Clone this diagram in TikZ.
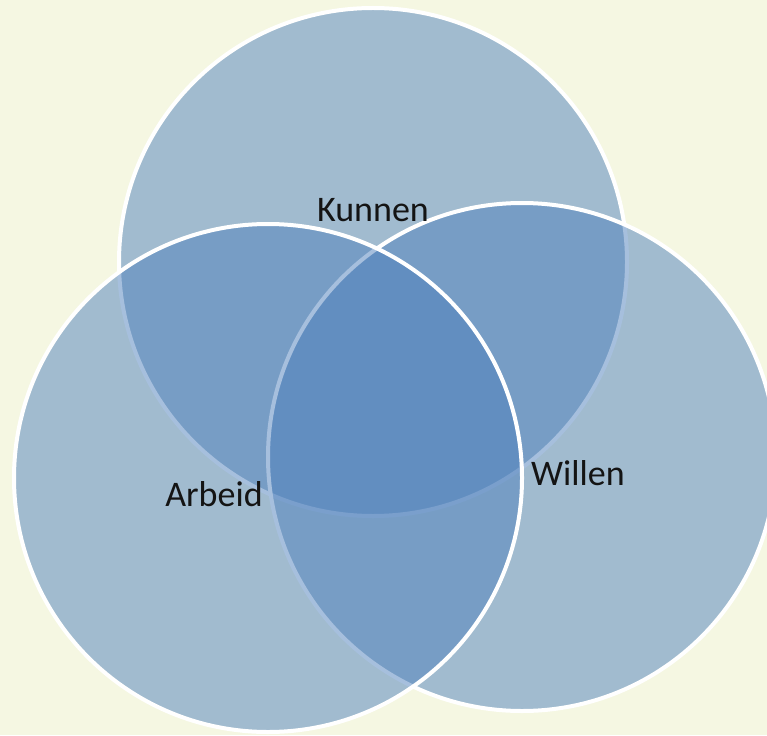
\documentclass[tikz,border=0pt]{standalone}
\usepackage{fontspec}
\setmainfont{Carlito}
\definecolor{bgbeige}{RGB}{245,247,226}
\definecolor{vennblue}{RGB}{79,129,189}
\definecolor{labelcol}{RGB}{20,20,20}
\tikzset{
  venncircle/.style={circle, inner sep=0pt, minimum size=508pt, fill=vennblue,
    fill opacity=0.5, draw=white, draw opacity=1, line width=4pt},
  vennlabel/.style={anchor=base, text=labelcol, inner sep=0pt,
    font=\fontsize{36}{43}\selectfont}
}
\begin{document}
\begin{tikzpicture}[x=1pt,y=-1pt]
\useasboundingbox (0,0) rectangle (767,735);
\clip (0,0) rectangle (767,735);
\fill[bgbeige] (0,0) rectangle (767,735);
\node[venncircle] (kunnenC) at (373,262) {};
\node[venncircle] (willenC) at (522,457) {};
\node[venncircle] (arbeidC) at (268,478) {};
\node[vennlabel] (kunnen) at (373,222) {Kunnen};
\node[vennlabel] (willen) at (578,485) {Willen};
\node[vennlabel] (arbeid) at (214,506) {Arbeid};
\end{tikzpicture}
\end{document}
